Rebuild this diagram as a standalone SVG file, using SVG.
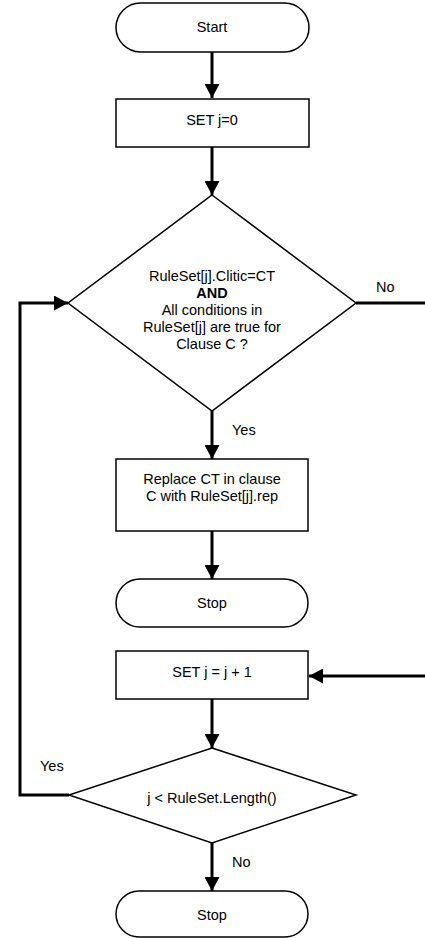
<svg xmlns="http://www.w3.org/2000/svg" width="425" height="938" viewBox="0 0 425 938">
<style>
.s{fill:#fff;stroke:#000;stroke-width:1.5}
.c{fill:none;stroke:#000;stroke-width:3}
text{font-family:"Liberation Sans",Arial,sans-serif;font-size:14.5px;fill:#000}
.m{text-anchor:middle}
</style>
<defs>
<marker id="ah" markerUnits="userSpaceOnUse" markerWidth="14" markerHeight="15" refX="14" refY="7.5" orient="auto">
<path d="M0,0 L14,7.5 L0,15 z" fill="#000"/>
</marker>
</defs>
<g id="connectors">
<path class="c" d="M212,52 V98" marker-end="url(#ah)"/>
<path class="c" d="M212,147 V195" marker-end="url(#ah)"/>
<path class="c" d="M212,411 V459" marker-end="url(#ah)"/>
<path class="c" d="M212,531 V579" marker-end="url(#ah)"/>
<path class="c" d="M212,699 V748" marker-end="url(#ah)"/>
<path class="c" d="M212,843 V891" marker-end="url(#ah)"/>
<path class="c" d="M356,303 H445 V676 H309" marker-end="url(#ah)"/>
<path class="c" d="M69,795 H20 V303 H68" marker-end="url(#ah)"/>
<text x="376" y="292">No</text>
<text x="232" y="435">Yes</text>
<text x="40" y="771">Yes</text>
<text x="232" y="867">No</text>
</g>
<g id="start">
<rect class="s" x="116" y="3" width="193" height="49" rx="24.5"/>
<text class="m" x="212" y="32">Start</text>
</g>
<g id="setj0">
<rect class="s" x="116" y="99" width="193" height="48"/>
<text class="m" x="212" y="125">SET j=0</text>
</g>
<g id="decision1">
<polygon class="s" points="212,195 356,303 212,411 68,303"/>
<text class="m" x="212" y="281">RuleSet[j].Clitic=CT</text>
<text class="m" x="212" y="298" font-weight="bold">AND</text>
<text class="m" x="212" y="315">All conditions in</text>
<text class="m" x="212" y="332">RuleSet[j] are true for</text>
<text class="m" x="212" y="349">Clause C ?</text>
</g>
<g id="replace">
<rect class="s" x="116" y="459" width="192" height="72"/>
<text class="m" x="212" y="484">Replace CT in clause</text>
<text class="m" x="212" y="501">C with RuleSet[j].rep</text>
</g>
<g id="stop1">
<rect class="s" x="116" y="579" width="192" height="48" rx="24"/>
<text class="m" x="212" y="608">Stop</text>
</g>
<g id="inc">
<rect class="s" x="116" y="651" width="192" height="48"/>
<text class="m" x="212" y="677">SET j = j + 1</text>
</g>
<g id="decision2">
<polygon class="s" points="212,748 356,795 212,843 69,795"/>
<text class="m" x="212" y="803">j &lt; RuleSet.Length()</text>
</g>
<g id="stop2">
<rect class="s" x="116" y="891" width="192" height="46" rx="23"/>
<text class="m" x="212" y="920">Stop</text>
</g>
</svg>
